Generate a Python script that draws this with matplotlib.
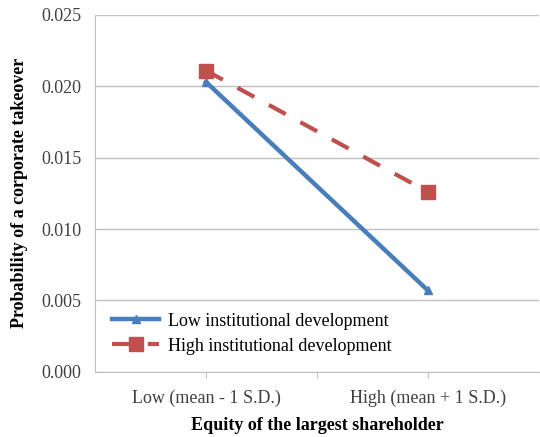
import matplotlib
matplotlib.use('Agg')
import matplotlib.pyplot as plt

plt.rcParams['font.family'] = ['Liberation Serif', 'DejaVu Serif']

# data
categories = ['Low (mean - 1 S.D.)', 'High (mean + 1 S.D.)']
low_inst = [0.0203, 0.0057]
high_inst = [0.0211, 0.0126]
y_ticks = [0.000, 0.005, 0.010, 0.015, 0.020, 0.025]

BLUE = '#4A7EBB'
RED = '#C0504D'
GRID = '#BFBFBF'

fig = plt.figure(figsize=(5.4, 4.37), dpi=100, facecolor='white')
ax = fig.add_axes([0.176, 0.149, 0.822, 0.817])

x = list(range(len(categories)))
ax.plot(x, low_inst, color=BLUE, lw=3.2, marker='^', ms=6,
        label='Low institutional development', zorder=3)
ax.plot(x, high_inst, color=RED, lw=3.0, ls=(0, (4.6, 4.0)), marker='s', ms=10,
        label='High institutional development', zorder=3)

ax.set_xlim(-0.5, 1.5)
ax.set_ylim(0, 0.025)
ax.set_yticks(y_ticks)
ax.set_yticklabels([f'{v:.3f}' for v in y_ticks], fontsize=13, color='#404040')
ax.set_xticks([0, 0.5, 1])
ax.set_xticklabels([categories[0], '', categories[1]], fontsize=13, color='#404040')
ax.tick_params(axis='x', length=4, color=GRID, pad=9)
ax.tick_params(axis='y', length=0, pad=10)
ax.grid(axis='y', color=GRID, lw=1)
ax.set_axisbelow(True)
for s in ['top', 'right']:
    ax.spines[s].set_visible(False)
ax.spines['left'].set_color(GRID)
ax.spines['bottom'].set_color(GRID)

ax.set_ylabel('Probability of a corporate takeover', fontsize=13,
              fontweight='bold', labelpad=9)
ax.set_xlabel('Equity of the largest shareholder', fontsize=13,
              fontweight='bold', labelpad=7)

ax.legend(loc='lower left', bbox_to_anchor=(0.0, 0.0), frameon=False,
          fontsize=13, handlelength=2.6, handletextpad=0.5,
          labelspacing=0.45, borderaxespad=0.55)

fig.savefig('out.png', dpi=100, facecolor='white')
